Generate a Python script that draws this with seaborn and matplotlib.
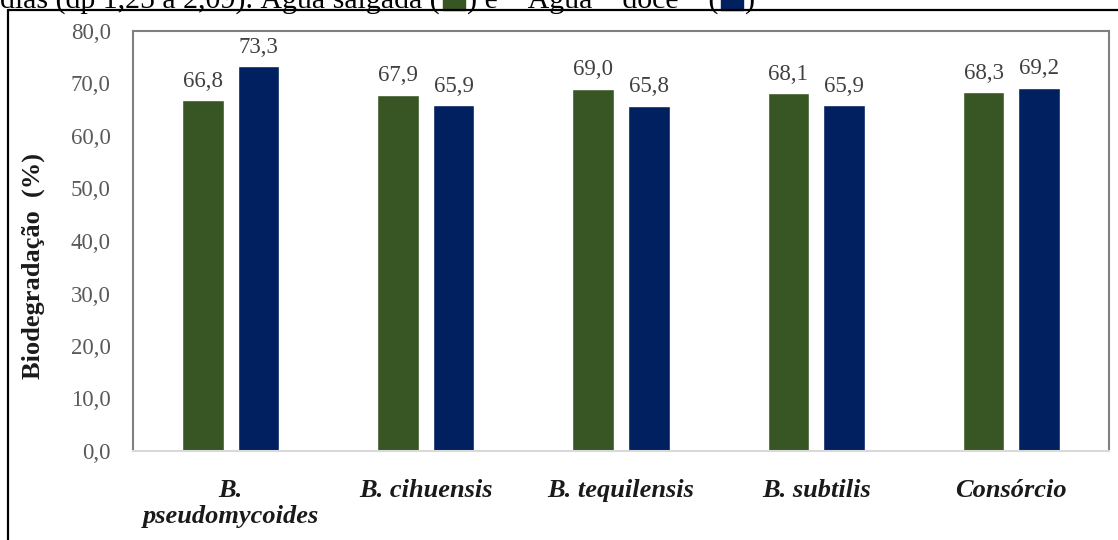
import matplotlib
matplotlib.use("Agg")
import matplotlib.pyplot as plt
import seaborn as sns
import pandas as pd
from matplotlib.lines import Line2D
from matplotlib.patches import Rectangle

categories = ["B.\npseudomycoides", "B. cihuensis", "B. tequilensis", "B. subtilis", "Consórcio"]
series_names = ["Água salgada", "Água doce"]
agua_salgada = [66.8, 67.9, 69.0, 68.1, 68.3]
agua_doce = [73.3, 65.9, 65.8, 65.9, 69.2]
yticks = [0, 10, 20, 30, 40, 50, 60, 70, 80]
colors = ["#375623", "#002060"]

df = pd.DataFrame({
    "cat": categories * 2,
    "serie": [series_names[0]] * 5 + [series_names[1]] * 5,
    "val": agua_salgada + agua_doce,
})

sns.set_theme(style="white")
plt.rcParams["font.family"] = ["Liberation Serif", "DejaVu Serif"]

fig = plt.figure(figsize=(11.18, 5.40), dpi=100)
ax = fig.add_axes([133 / 1118, 89 / 540, 976 / 1118, 420 / 540])

sns.barplot(data=df, x="cat", y="val", hue="serie", order=categories,
            hue_order=series_names, palette=colors, width=0.57, gap=0.25,
            saturation=1, legend=False, ax=ax, errorbar=None)

for cont in ax.containers:
    labels = [f"{v:.1f}".replace(".", ",") for v in cont.datavalues]
    ax.bar_label(cont, labels=labels, padding=6, fontsize=16.5, color="#404040")

ax.set_ylim(0, 80)
ax.set_xlim(-0.5, 4.5)
ax.set_yticks(yticks)
ax.set_yticklabels([f"{v:.1f}".replace(".", ",") for v in yticks], fontsize=16.5, color="#595959")
ax.tick_params(axis="y", length=0, pad=16)
ax.tick_params(axis="x", length=0, pad=20)
for lab in ax.get_xticklabels():
    lab.set_fontsize(19)
    lab.set_fontweight("bold")
    lab.set_fontstyle("italic")
    lab.set_color("#1a1a1a")
    lab.set_linespacing(1.2)
ax.set_xlabel("")
ax.set_ylabel("Biodegradação  (%)", fontsize=19, fontweight="bold", color="#1a1a1a")
ax.yaxis.set_label_coords((45 - 133) / 976, 0.44)

for s in ["top", "left", "right"]:
    ax.spines[s].set_visible(True)
    ax.spines[s].set_color("#7f7f7f")
    ax.spines[s].set_linewidth(1.5)
ax.spines["bottom"].set_color("#d9d9d9")
ax.spines["bottom"].set_linewidth(1.5)

# outer frame (cropped figure border)
W, H = 1118, 540
fig.add_artist(Line2D([8 / W, 8 / W], [1 - 10 / H, 0], transform=fig.transFigure, color="black", lw=1.6))
fig.add_artist(Line2D([8 / W, 1.0], [1 - 10 / H, 1 - 10 / H], transform=fig.transFigure, color="black", lw=1.6))

# cropped caption above the chart (justified text in the source)
fig.canvas.draw()
renderer = fig.canvas.get_renderer()
base_y = 1 - 8 / H
cap_kw = dict(fontsize=21.5, color="black", va="baseline", ha="left", transform=fig.transFigure)
x = 0.0
pieces = ["dias (dp 1,25 a 2,09). Água salgada (", ") e    Água    doce    (", ")"]
for i, p in enumerate(pieces):
    t = fig.text(x, base_y, p, **cap_kw)
    bb = t.get_window_extent(renderer)
    x = bb.x1 / W
    if i < 2:
        sq_w = 22 / W
        fig.add_artist(Rectangle((x + 3 / W, 1 - 10 / H), sq_w, 14 / H,
                                 transform=fig.transFigure, color=colors[i]))
        x = x + sq_w + 5 / W

fig.savefig("out.png", dpi=100)
